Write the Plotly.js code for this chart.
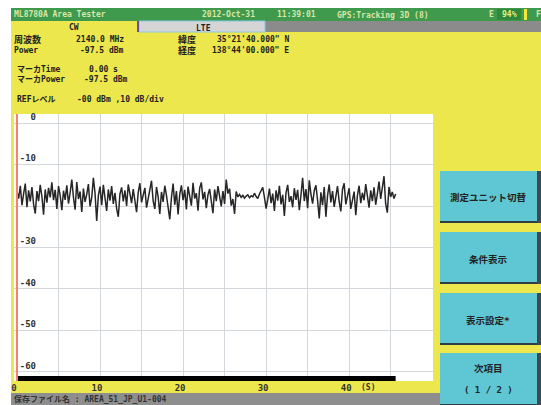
<!DOCTYPE html>
<html><head><meta charset="utf-8">
<script src="https://cdn.plot.ly/plotly-3.0.1.min.js"></script>
<style>html,body{margin:0;padding:0;background:#fff;}#c{width:541px;height:405px;}</style>
</head><body><div id="c"></div>
<script>
// ---- data ----
const startTime = 0;        // s
const sampleStep = 0.2;     // s between samples
const powerDb = [
-16.5,-18.2,-15.1,-19.8,-17.0,-14.6,-20.3,-16.2,-18.9,-15.4,
-19.6,-21.8,-16.4,-18.8,-14.9,-17.7,-22.1,-16.0,-19.2,-15.6,
-17.9,-14.3,-18.6,-16.1,-20.7,-15.2,-17.4,-21.0,-16.3,-18.5,
-15.0,-19.4,-16.8,-13.6,-17.9,-20.9,-14.2,-18.3,-16.5,-21.4,
-15.8,-19.0,-17.2,-14.7,-20.1,-18.0,-13.2,-16.9,-23.6,-17.5,
-15.3,-19.8,-14.9,-17.6,-21.2,-16.0,-18.7,-15.2,-19.5,-16.8,
-20.6,-22.6,-17.1,-15.5,-18.9,-16.2,-20.0,-14.8,-17.7,-19.3,
-15.9,-18.4,-21.5,-16.7,-14.5,-19.1,-17.0,-15.6,-20.4,-18.1,
-16.3,-13.9,-18.8,-20.7,-15.4,-17.8,-21.9,-16.6,-19.0,-15.1,
-17.4,-20.2,-23.2,-18.0,-14.6,-19.7,-16.4,-22.0,-17.2,-15.0,
-18.6,-16.1,-20.8,-15.3,-17.5,-19.9,-14.4,-18.2,-16.9,-21.1,
-15.7,-14.3,-18.4,-16.6,-20.5,-17.3,-15.9,-19.2,-21.7,-16.0,
-18.8,-15.2,-17.6,-20.1,-16.4,-19.5,-13.6,-17.0,-15.8,-19.9,
-18.3,-21.9,-16.5,-17.8,-17.2,-17.9,-17.4,-18.1,-17.6,-17.3,
-18.0,-17.5,-17.8,-16.9,-17.7,-18.2,-17.1,-16.4,-15.5,-17.9,
-20.6,-18.4,-15.8,-19.3,-17.0,-21.2,-16.2,-18.7,-15.1,-19.6,
-17.3,-22.4,-16.8,-14.9,-19.0,-17.6,-20.3,-15.7,-18.5,-16.1,
-21.0,-17.4,-13.2,-18.8,-15.9,-20.5,-13.8,-17.1,-19.4,-16.3,
-15.0,-18.6,-23.0,-16.7,-19.8,-15.4,-22.6,-17.5,-14.8,-19.1,
-16.4,-20.2,-17.8,-15.2,-18.9,-21.3,-16.0,-14.5,-19.6,-17.2,
-15.7,-20.7,-18.1,-16.5,-22.2,-17.4,-15.1,-19.3,-16.8,-18.6,
-14.7,-17.9,-20.4,-16.2,-18.8,-15.5,-19.7,-17.0,-14.1,-18.3,
-16.0,-12.8,-19.5,-21.6,-15.4,-17.8,-16.6,-18.2,-17.1
];
const xTickVals = [0,5,10,15,20,25,30,35,40,45,50];
const xTickText = ['0','','10','','20','','30','','40','',''];
const yTickVals = [0,-10,-20,-30,-40,-50,-60];
const yTickText = ['0','-10','','-30','-40','-50','-60'];
const markerTime = 0;

// ---- layout helpers (pixel -> paper) ----
const L=14, R=433, T=114, B=381;
const px = x => (x-L)/(R-L);
const py = y => (B-y)/(B-T);
const YEL='#ECE74C', GRN='#3F9A4E', GRY='#8B8B8B', CYAN='#5FC7D4';
const shapes=[];
function rect(x0,y0,x1,y1,fill,line){
  shapes.push({type:'rect',xref:'paper',yref:'paper',x0:px(x0),x1:px(x1),y0:py(y1),y1:py(y0),
    fillcolor:fill,line:line||{width:0},layer:'above'});
}
rect(0,0,541,8,'#ffffff');
rect(0,0,11,405,'#ffffff');
rect(11,8,541,21,GRN);
rect(497,9,521,20,'#2E8A3A');
rect(524,9,527,20,'#F4E63A');
rect(265,21,541,32,GRY);
rect(139,21,265,32,'#D5D5D5',{width:1,color:'#86C9E6'});
rect(137,21,139,32,'#6A4FA0');
// buttons
const btns=[[171,223],[232,284],[293,345],[353,406]];
btns.forEach(b=>{
  rect(440,b[0],537,b[1],CYAN);
  rect(537,b[0],541,b[1],'#3B4B4E');
  rect(440,b[1]-2,537,b[1],'#2E3E42');
});
rect(11,393,433,405,'#8E8E8E');
rect(433,393,440,405,'#8E8E8E');

const lastTime = startTime + sampleStep*(powerDb.length-1);
// progress bar and marker line (data coords through axes)
shapes.push({type:'rect',xref:'x',yref:'paper',x0:startTime,x1:lastTime,y0:0,y1:py(376),
  fillcolor:'#000',line:{width:0},layer:'above'});
shapes.push({type:'line',xref:'x',yref:'paper',x0:markerTime,x1:markerTime,y0:0,y1:1,
  line:{color:'#F2836E',width:2},layer:'above'});

const F='DejaVu Sans Mono, Noto Sans CJK JP';
const ann=[];
function txt(t,x,y,opt){
  opt=opt||{};
  ann.push({text:t,xref:'paper',yref:'paper',x:px(x),y:py(y),showarrow:false,
    xanchor:opt.xa||'left',yanchor:'middle',
    font:{family:opt.f||F,size:opt.s||8,color:opt.c||'#222',weight:opt.w||'bold'}});
}
const TB='#D9E6A6';
txt('ML8780A Area Tester',12,14.5,{c:TB});
txt('2012-Oct-31',200,14.5,{c:TB});
txt('11:39:01',275,14.5,{c:TB});
txt('GPS:Tracking 3D (8)',335,14.5,{c:TB});
txt('E',487,14.5,{c:TB});
txt('94%',509,14.5,{c:'#E8EE80',xa:'center'});
txt('F',534,14.5,{c:TB});
txt('CW',74,27,{xa:'center'});
txt('LTE',203,28,{xa:'center'});
txt('周波数',12,39,{s:9});
txt('2140.0 MHz',126,39,{xa:'right'});
txt('緯度',176,39,{s:9});
txt('35°21\'40.000" N',291,39,{xa:'right'});
txt('Power',12,50);
txt('-97.5 dBm',126,50,{xa:'right'});
txt('経度',176,50,{s:9});
txt('138°44\'00.000" E',291,50,{xa:'right'});
txt('マーカTime',15,69);
txt('0.00 s',120,69,{xa:'right'});
txt('マーカPower',15,80);
txt('-97.5 dBm',130,80,{xa:'right'});
txt('REFレベル',15,99);
txt('-00 dBm ,10 dB/div',75,99);
txt('(S)',368,387,{xa:'center',c:'#333'});
txt('保存ファイル名 : AREA_51_JP_U1-004',12,399,{c:'#333'});
txt('測定ユニット切替',488,197,{xa:'center',s:9.5});
txt('条件表示',488,259,{xa:'center',s:9.5});
txt('表示設定*',488,320,{xa:'center',s:9.5});
txt('次項目',488,368,{xa:'center',s:9.5});
txt('( 1 / 2 )',488,390,{xa:'center',s:9});

const trace={type:'scatter',mode:'lines',x0:startTime,dx:sampleStep,y:powerDb,
  line:{color:'#262626',width:1.5},hoverinfo:'skip'};

const layout={
  width:541,height:405,margin:{l:L,r:541-R,t:T,b:405-B,pad:0},
  paper_bgcolor:YEL,plot_bgcolor:'#ffffff',showlegend:false,
  xaxis:{range:[-0.36,50.1],tickvals:xTickVals,ticktext:xTickText,showgrid:true,
    gridcolor:'#D3D6DA',gridwidth:1,zeroline:false,showline:false,ticks:'',
    tickfont:{family:F,size:9,color:'#333',weight:'bold'},ticklabelshift:-3,fixedrange:true},
  yaxis:{range:[-62.2,2.2],tickvals:yTickVals,ticktext:yTickText,showgrid:true,
    gridcolor:'#D3D6DA',gridwidth:1,zeroline:false,showline:false,ticks:'',
    anchor:'free',position:px(36),ticklabelposition:'outside top',
    tickfont:{family:F,size:9,color:'#333',weight:'bold'},fixedrange:true},
  shapes:shapes,annotations:ann
};
Plotly.newPlot('c',[trace],layout,{staticPlot:true,displayModeBar:false});
</script></body></html>
